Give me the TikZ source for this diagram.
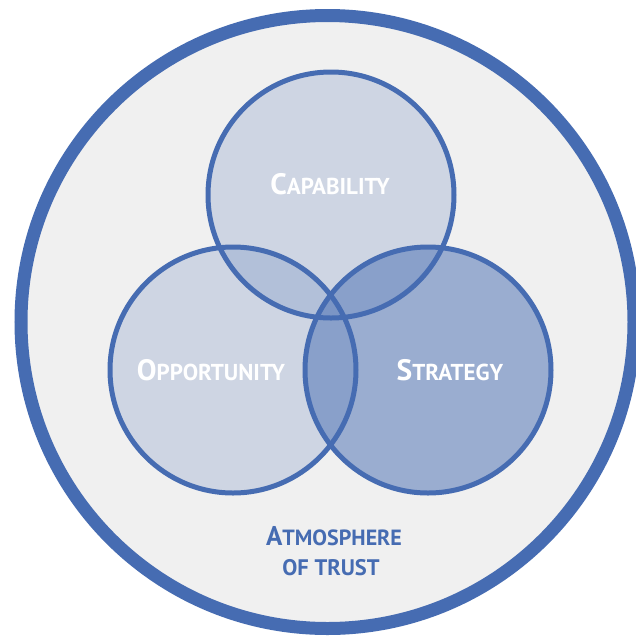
\documentclass[tikz,border=0pt]{standalone}
\usepackage{fontspec}
\setmainfont{PT Sans}
\definecolor{trustblue}{RGB}{70,108,178}
\definecolor{trustbg}{RGB}{240,240,240}
\newcommand{\fakesc}[4]{{\fontsize{#1}{#1}\selectfont #3}{\fontsize{#2}{#2}\selectfont #4}}
\tikzset{
  ring/.style={draw=trustblue, line width=5pt},
  lbl/.style={anchor=base, text=white, font=\bfseries, inner sep=0pt},
  trustlbl/.style={anchor=base, text=trustblue, font=\bfseries, inner sep=0pt, align=center}
}
\begin{document}
\begin{tikzpicture}[x=1pt,y=-1pt]
\useasboundingbox (0,0) rectangle (636,641);
\clip (0,0) rectangle (636,641);
\fill[white] (0,0) rectangle (636,641);
% atmosphere
\draw[draw=trustblue, fill=trustbg, line width=13pt] (327.5,322) circle[radius=306.5pt];
% fills
\fill[trustblue, fill opacity=0.2] (331,195) circle[radius=123pt];
\fill[trustblue, fill opacity=0.2] (233,370) circle[radius=123pt];
\fill[trustblue, fill opacity=0.5] (428,370) circle[radius=123pt];
% outlines
\draw[ring] (331,195) circle[radius=123pt];
\draw[ring] (233,370) circle[radius=123pt];
\draw[ring] (428,370) circle[radius=123pt];
% labels
\node[lbl] (cap) at (330,194) {\fakesc{29.5}{23}{C}{APABILITY}};
\node[lbl] (opp) at (211,380) {\fakesc{29.5}{23}{O}{PPORTUNITY}};
\node[lbl] (str) at (450,380) {\fakesc{29.5}{23}{S}{TRATEGY}};
\node[trustlbl] (atm) at (334,545) {\fakesc{27}{22}{A}{TMOSPHERE}};
\node[trustlbl] (oft) at (331,575) {\fakesc{22.5}{22.5}{}{OF TRUST}};
\end{tikzpicture}
\end{document}
